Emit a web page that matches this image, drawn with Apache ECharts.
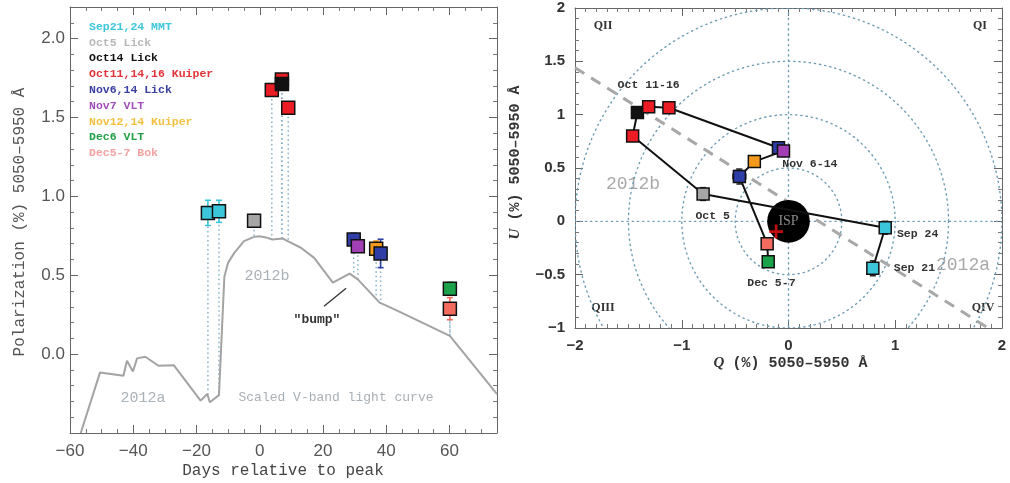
<!DOCTYPE html>
<html><head><meta charset="utf-8">
<script src="https://cdn.jsdelivr.net/npm/echarts@6/dist/echarts.min.js"></script>
<style>html,body{margin:0;padding:0;background:#fff}#c{width:1010px;height:483px}</style>
</head><body><div id="c"></div><script>
// ---------- DATA ----------
const lcDay = [-56.6,-50.5,-43.1,-42.0,-40.1,-38.8,-36.2,-32.0,-27.2,-18.7,-16.6,-15.8,-12.9,-11.2,-10.0,-8.1,-5.0,-1.8,-0.2,2.4,4.0,7.2,8.8,13.0,17.2,23.1,28.4,31.0,37.9,42.6,60.1,75];
const lcPol = [-0.50,-0.116,-0.137,-0.042,-0.110,-0.027,-0.017,-0.074,-0.070,-0.295,-0.253,-0.305,-0.260,0.49,0.58,0.64,0.716,0.743,0.747,0.737,0.726,0.733,0.716,0.674,0.61,0.453,0.51,0.474,0.326,0.284,0.116,-0.253];

const obsName  = ['Sep 21','Sep 24','Oct 5','Oct 11','Oct 14','Oct 14','Oct 16','Nov 6','Nov 7','Nov 12','Nov 14','Dec 5-7','Dec 6'];
const obsGroup = ['MMT','MMT','Lick5','Kuiper','Kuiper','Lick14','Kuiper','LickN','VLT7','KuiperN','LickN','Bok','VLT6'];
const obsDay    = [-16.4,-12.9,-1.8,3.8,7.0,7.0,9.0,29.7,31.0,36.8,38.2,60.1,60.1];
const obsPol    = [0.895,0.905,0.846,1.674,1.74,1.712,1.562,0.726,0.684,0.667,0.638,0.288,0.415];
const obsPolErr = [0.08,0.07,0.04,0,0,0,0,0.04,0,0.05,0.09,0.07,0.04];
const obsCurve  = [-0.27,-0.26,0.74,0.728,0.733,0.733,0.715,0.50,0.474,0.35,0.32,0.116,0.116];
const obsQ      = [0.79,0.906,-0.80,-1.46,-1.31,-1.415,-1.12,-0.094,-0.047,-0.32,-0.46,-0.20,-0.19];
const obsU      = [-0.44,-0.06,0.256,0.80,1.075,1.02,1.065,0.69,0.66,0.56,0.42,-0.21,-0.38];
const obsQErr   = [0.05,0.04,0.03,0,0,0,0,0.03,0,0.03,0.06,0.05,0];
const obsUErr   = [0.07,0.06,0.06,0,0,0,0,0.04,0,0,0.07,0.05,0.04];
const quPath    = [0,1,2,3,5,4,6,7,8,9,10,11,12];

const legendLabels = ['Sep21,24 MMT','Oct5 Lick','Oct14 Lick','Oct11,14,16 Kuiper','Nov6,14 Lick','Nov7 VLT','Nov12,14 Kuiper','Dec6 VLT','Dec5-7 Bok'];
const legendGroups = ['MMT','Lick5','Lick14','Kuiper','LickN','VLT7','KuiperN','VLT6','Bok'];

const bumpLine = [[20.3,0.303],[27.3,0.417]];
const ringRadii = [0.5,1.0,1.5,2.0];
const dominantAxis = [[-2.0,1.44],[1.87,-1.0]];
const isp = [0, 0, 0.2];
const ispCross = [-0.116,-0.096];

const quLabels = [
  ['Oct 11-16',-1.31,1.28],['Nov 6-14',0.2,0.54],['Oct 5',-0.71,0.05],['Dec 5-7',-0.16,-0.58],['Sep 24',1.21,-0.12],['Sep 21',1.18,-0.44]
];

// ---------- STYLES ----------
const groupColor = {MMT:'#3cc6da',Lick5:'#a6a6a6',Lick14:'#111111',Kuiper:'#ec1c24',LickN:'#2e3ea6',VLT7:'#a23fb5',KuiperN:'#f39a1e',VLT6:'#1aa34a',Bok:'#f26b5e'};
const legendColor = {MMT:'#3cc6da',Lick5:'#b8b8b8',Lick14:'#111111',Kuiper:'#e3333a',LickN:'#3a40a0',VLT7:'#a050b8',KuiperN:'#f2c040',VLT6:'#22a048',Bok:'#f2a2a0'};
const MONO = "'Liberation Mono','DejaVu Sans Mono',monospace";
const SANS = "'Liberation Sans','DejaVu Sans',sans-serif";
const SERIF = "'Liberation Serif','DejaVu Serif',serif";
const minus = s => String(s).replace('-', '\u2212');

const chart = echarts.init(document.getElementById('c'));

function axisPair(gridIndex, pos, min, max, interval, minor, fmt, labelStyle, showLabel, margin) {
  return {
    type:'value', gridIndex, position:pos, min, max, interval,
    axisLine:{show:true, onZero:false, lineStyle:{color:'#666', width:1}},
    axisTick:{show:true, inside:true, length:8, lineStyle:{color:'#666'}},
    minorTick:{show:true, splitNumber:minor, length:4, lineStyle:{color:'#777'}},
    splitLine:{show:false}, minorSplitLine:{show:false},
    axisLabel:Object.assign({show:showLabel, formatter:fmt, margin, showMaxLabel:true, showMinLabel:true}, labelStyle)
  };
}
const leftLab = {fontFamily:SANS, fontSize:17, color:'#555'};
const rightLab = {fontFamily:SANS, fontSize:15, fontWeight:'bold', color:'#333'};
const fx0 = v => (Math.abs(v % 20) < 1e-9 && v <= 60) ? minus(v) : '';
const fy0 = v => (v > -0.01 && v < 2.01) ? v.toFixed(1) : '';
const fx1 = v => minus(v);
const fy1 = v => minus(v);

const xAxes = [
  axisPair(0,'bottom',-60,75,20,4,fx0,leftLab,true,10),
  axisPair(0,'top',-60,75,20,4,fx0,leftLab,false,10),
  axisPair(1,'bottom',-2,2,1,10,fx1,rightLab,true,10),
  axisPair(1,'top',-2,2,1,10,fx1,rightLab,false,10)
];
const yAxes = [
  axisPair(0,'left',-0.5,2.2,0.5,5,fy0,leftLab,true,5),
  axisPair(0,'right',-0.5,2.2,0.5,5,fy0,leftLab,false,5),
  axisPair(1,'left',-1,2,0.5,5,fy1,rightLab,true,10),
  axisPair(1,'right',-1,2,0.5,5,fy1,rightLab,false,10)
];

function clipOf(params){ const c=params.coordSys; return {type:'rect', shape:{x:c.x,y:c.y,width:c.width,height:c.height}}; }
function seg(a,b,st){ return {type:'line',shape:{x1:a[0],y1:a[1],x2:b[0],y2:b[1]},style:st}; }

const series = [];
// ---- left panel ----
series.push({type:'line', xAxisIndex:0, yAxisIndex:0, data:lcDay.map((d,i)=>[d,lcPol[i]]), symbol:'none', clip:true,
  lineStyle:{color:'#a3a3a3', width:2}, z:1, silent:true});
series.push({type:'custom', xAxisIndex:0, yAxisIndex:0, z:1, silent:true,
  data:obsDay.map((d,i)=>[d,obsPol[i],obsCurve[i]]), encode:{x:0,y:1},
  renderItem(params, api){
    const p1=api.coord([api.value(0),api.value(1)]), p2=api.coord([api.value(0),api.value(2)]);
    return {type:'group',children:[seg(p1,p2,{stroke:'#86b0c8',lineWidth:1.5,lineDash:[1.5,3]})]};
  }});
series.push({type:'line', xAxisIndex:0, yAxisIndex:0, data:bumpLine, symbol:'none', lineStyle:{color:'#333',width:1.3}, silent:true});
series.push({type:'custom', xAxisIndex:0, yAxisIndex:0, z:2, silent:true,
  data:obsDay.map((d,i)=>[d,obsPol[i],obsPolErr[i]]), encode:{x:0,y:1},
  renderItem(params, api){
    const i=params.dataIndex, e=api.value(2);
    const ch=[];
    if(e>0){
      const st={stroke:groupColor[obsGroup[i]],lineWidth:1.6};
      const a=api.coord([api.value(0),api.value(1)-e]), b=api.coord([api.value(0),api.value(1)+e]);
      ch.push(seg(a,b,st), seg([a[0]-3,a[1]],[a[0]+3,a[1]],st), seg([b[0]-3,b[1]],[b[0]+3,b[1]],st));
    }
    return {type:'group',children:ch};
  }});
['MMT','Lick5','Kuiper','Lick14','Bok','VLT6','KuiperN','LickN','VLT7'].forEach(g=>{
  const idx=obsGroup.map((x,i)=>x===g?i:-1).filter(i=>i>=0);
  series.push({type:'scatter', xAxisIndex:0, yAxisIndex:0, symbol:'rect', symbolSize:13, z:3,
    data:idx.map(i=>[obsDay[i],obsPol[i]]), itemStyle:{color:groupColor[g], borderColor:'#111', borderWidth:1.5, opacity:1}});
});

// ---- right panel ----
series.push({type:'custom', xAxisIndex:2, yAxisIndex:2, z:1, silent:true,
  data:ringRadii.map(r=>[r,0]), encode:{x:0,y:1},
  renderItem(params, api){
    const r=api.value(0), c=api.coord([0,0]), s=api.size([r,r]);
    const cs=params.coordSys;
    const st={stroke:'#6d9cb3',lineWidth:1.4,lineDash:[1.2,4],lineCap:'round',fill:'none'};
    const children=[{type:'circle',shape:{cx:c[0],cy:c[1],r:(s[0]+s[1])/2},style:st}];
    if(params.dataIndex===0){
      children.push(seg([cs.x,c[1]],[cs.x+cs.width,c[1]],st));
      children.push(seg([c[0],cs.y],[c[0],cs.y+cs.height],st));
    }
    return {type:'group',clipPath:clipOf(params),children};
  }});
series.push({type:'line', xAxisIndex:2, yAxisIndex:2, data:dominantAxis, symbol:'none', silent:true, z:1,
  lineStyle:{color:'#a8a8a8', width:3, type:[11,8]}});
series.push({type:'custom', xAxisIndex:2, yAxisIndex:2, z:2, silent:true,
  data:[isp], encode:{x:0,y:1},
  renderItem(params, api){
    const c=api.coord([api.value(0),api.value(1)]), s=api.size([api.value(2),api.value(2)]);
    return {type:'group',children:[
      {type:'circle',shape:{cx:c[0],cy:c[1],r:(s[0]+s[1])/2},style:{fill:'#000'}},
      {type:'text',x:c[0],y:c[1],style:{text:'ISP',fill:'#8a8a8a',font:"14px "+SERIF,align:'center',verticalAlign:'middle'}}]};
  }});
series.push({type:'line', xAxisIndex:2, yAxisIndex:2, data:quPath.map(i=>[obsQ[i],obsU[i]]), symbol:'none', silent:true, z:2,
  lineStyle:{color:'#111', width:2}});
series.push({type:'custom', xAxisIndex:2, yAxisIndex:2, z:2, silent:true,
  data:obsQ.map((q,i)=>[q,obsU[i],obsQErr[i],obsUErr[i]]), encode:{x:0,y:1},
  renderItem(params, api){
    const q=api.value(0), u=api.value(1), eq=api.value(2), eu=api.value(3);
    const st={stroke:'#222',lineWidth:1.5}; const ch=[];
    if(eu>0){const a=api.coord([q,u-eu]), b=api.coord([q,u+eu]);
      ch.push(seg(a,b,st), seg([a[0]-3,a[1]],[a[0]+3,a[1]],st), seg([b[0]-3,b[1]],[b[0]+3,b[1]],st));}
    if(eq>0){const a=api.coord([q-eq,u]), b=api.coord([q+eq,u]);
      ch.push(seg(a,b,st), seg([a[0],a[1]-3],[a[0],a[1]+3],st), seg([b[0],b[1]-3],[b[0],b[1]+3],st));}
    return {type:'group',children:ch};
  }});
['MMT','Lick5','Lick14','Kuiper','Bok','VLT6','KuiperN','LickN','VLT7'].forEach(g=>{
  const idx=obsGroup.map((x,i)=>x===g?i:-1).filter(i=>i>=0);
  series.push({type:'scatter', xAxisIndex:2, yAxisIndex:2, symbol:'rect', symbolSize:12, z:3,
    data:idx.map(i=>[obsQ[i],obsU[i]]), itemStyle:{color:groupColor[g], borderColor:'#111', borderWidth:1.5, opacity:1}});
});
series.push({type:'scatter', xAxisIndex:2, yAxisIndex:2, z:4, silent:true, data:[ispCross],
  symbol:'path://M4,0H6V4H10V6H6V10H4V6H0V4H4Z', symbolSize:14, itemStyle:{color:'#ee1111'}});
series.push({type:'scatter', xAxisIndex:2, yAxisIndex:2, z:4, silent:true, symbolSize:0,
  data:quLabels.map(l=>({value:[l[1],l[2]], name:l[0]})),
  label:{show:true, position:'inside', formatter:p=>p.name, fontFamily:MONO, fontWeight:'bold', fontSize:11.5, color:'#333', opacity:1}});

// ---------- TEXT ----------
const graphic = [];
legendLabels.forEach((t,i)=>graphic.push({type:'text', x:89, y:27+i*15.8,
  style:{text:t, fill:legendColor[legendGroups[i]], font:"bold 11.5px "+MONO, align:'left', verticalAlign:'middle'}}));
const txt = (x,y,t,font,fill,rot)=>({type:'text', x, y, rotation:rot||0, style:{text:t, font, fill, align:'center', verticalAlign:'middle'}});
graphic.push(txt(143,398,'2012a',"15px "+MONO,'#a9b0b6'));
graphic.push(txt(336,398,'Scaled V-band light curve',"13px "+MONO,'#a9b0b6'));
graphic.push(txt(267,276,'2012b',"15px "+MONO,'#a9b0b6'));
graphic.push(txt(317,320,'"bump"',"bold 13px "+MONO,'#333'));
graphic.push(txt(283,471,'Days relative to peak',"16px "+MONO,'#444'));
graphic.push(txt(20,222,'Polarization (%) 5050\u20135950 \u00c5',"16px "+MONO,'#555',Math.PI/2));
graphic.push(txt(603,26,'QII',"bold 12px "+SERIF,'#333'));
graphic.push(txt(980,26,'QI',"bold 12px "+SERIF,'#333'));
graphic.push(txt(603,308,'QIII',"bold 12px "+SERIF,'#333'));
graphic.push(txt(983,308,'QIV',"bold 12px "+SERIF,'#333'));
graphic.push(txt(633,184,'2012b',"18px "+MONO,'#a9a9a9'));
graphic.push(txt(963,265,'2012a',"18px "+MONO,'#a9a9a9'));
graphic.push(txt(719,363,'Q',"italic bold 15px "+SERIF,'#333'));
graphic.push(txt(800,363,'(%) 5050\u20135950 \u00c5',"bold 15px "+MONO,'#333'));
graphic.push(txt(515,234,'U',"italic bold 15px "+SERIF,'#333',Math.PI/2));
graphic.push(txt(515,153,'(%) 5050\u20135950 \u00c5',"bold 15px "+MONO,'#333',Math.PI/2));

chart.setOption({
  animation:false,
  backgroundColor:'#fff',
  grid:[{left:70, top:7, width:427, height:426},{left:575, top:8, width:427, height:320}],
  xAxis:xAxes, yAxis:yAxes, series, graphic
});
</script></body></html>
